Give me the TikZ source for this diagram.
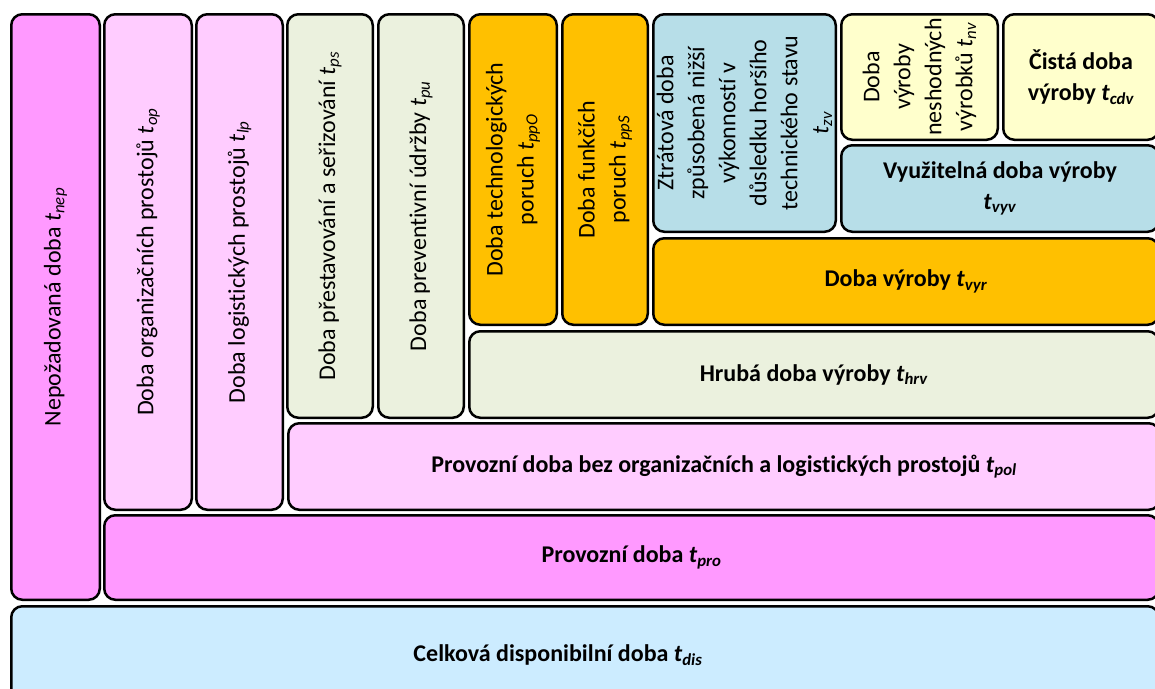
\documentclass[tikz,border=0pt]{standalone}
\usepackage{fontspec}
\setmainfont[Ligatures=NoCommon]{Carlito}
\definecolor{cMag}{HTML}{FF99FF}
\definecolor{cPink}{HTML}{FFCCFF}
\definecolor{cSage}{HTML}{EBF1DE}
\definecolor{cGold}{HTML}{FFC000}
\definecolor{cTeal}{HTML}{B7DEE8}
\definecolor{cCream}{HTML}{FFFFCC}
\definecolor{cSky}{HTML}{CCECFF}
\newcommand\tq[1]{\textit{t}\textsubscript{\textit{#1}}}
\tikzset{
  blk/.style={draw=black, line width=2.5pt, rounded corners=11pt, inner sep=2pt,
    align=center, font=\fontsize{24}{31}\selectfont},
  vblk/.style={blk, rotate=90},
  hblk/.style={blk, font=\fontsize{24}{31}\selectfont\bfseries}
}
\begin{document}
\begin{tikzpicture}[x=1pt,y=-1pt]
\useasboundingbox (0,0) rectangle (1155,688);
\clip (0,0) rectangle (1155,688);
% vertical columns (text reads bottom to top)
\node[vblk, fill=cMag,  minimum width=585.5pt, minimum height=88.5pt] (nep) at (55.5,307) {Nepožadovaná doba \tq{nep}};
\node[vblk, fill=cPink, minimum width=495.5pt, minimum height=87.5pt] (op)  at (148,262) {Doba organizačních prostojů \tq{op}};
\node[vblk, fill=cPink, minimum width=495.5pt, minimum height=86.5pt] (lp)  at (239.5,262) {Doba logistických prostojů \tq{lp}};
\node[vblk, fill=cSage, minimum width=403.5pt, minimum height=85.5pt] (ps)  at (330,216) {Doba přestavování a seřizování \tq{ps}};
\node[vblk, fill=cSage, minimum width=403.5pt, minimum height=85.5pt] (pu)  at (421,216) {Doba preventivní údržby \tq{pu}};
\node[vblk, fill=cGold, minimum width=310.5pt, minimum height=87.5pt] (ppo) at (513,169.5) {Doba technologických\\poruch \tq{ppO}};
\node[vblk, fill=cGold, minimum width=310.5pt, minimum height=85.5pt] (pps) at (605,169.5) {Doba funkčích\\poruch \tq{ppS}};
\node[vblk, fill=cTeal, minimum width=217.5pt, minimum height=182.5pt] (zv)  at (744.5,123) {Ztrátová doba\\způsobená nižší\\výkonností v\\důsledku horšího\\technického stavu\\\tq{zv}};
\node[vblk, fill=cCream, minimum width=125.5pt, minimum height=156.5pt] (nv) at (919.5,77) {Doba\\výroby\\neshodných\\výrobků \tq{nv}};
% horizontal blocks
\node[hblk, fill=cCream, minimum width=155.5pt, minimum height=125.5pt] (cdv) at (1081,77) {Čistá doba\\výroby \tq{cdv}};
\node[hblk, fill=cTeal, minimum width=317.5pt, minimum height=86.5pt] (vyv) at (1000,188.5) {Využitelná doba výroby\\\tq{vyv}};
\node[hblk, fill=cGold, minimum width=505.5pt, minimum height=86.5pt] (vyr) at (906,281.5) {Doba výroby \tq{vyr}};
\node[hblk, fill=cSage, minimum width=689.5pt, minimum height=86.5pt] (hrv) at (814,374.5) {Hrubá doba výroby \tq{hrv}};
\node[hblk, fill=cPink, minimum width=871.5pt, minimum height=86.5pt] (pol) at (724,466.5) {Provozní doba bez organizačních a logistických prostojů \tq{pol}};
\node[hblk, fill=cMag,  minimum width=1054.5pt, minimum height=84.5pt] (pro) at (631.5,557.5) {Provozní doba \tq{pro}};
\node[hblk, fill=cSky,  minimum width=1147.5pt, minimum height=97.5pt] (dis) at (585,655) {Celková disponibilní doba \tq{dis}\hspace*{54pt}};
\end{tikzpicture}
\end{document}
